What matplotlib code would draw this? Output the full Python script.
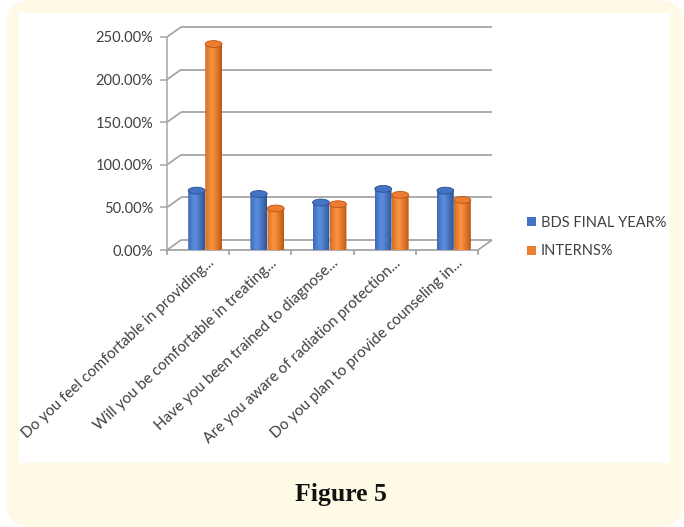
import numpy as np
import matplotlib
matplotlib.use("Agg")
import matplotlib.pyplot as plt
from matplotlib.patches import Rectangle, Ellipse, FancyBboxPatch, Polygon
from matplotlib.transforms import ScaledTranslation, blended_transform_factory

categories = [
    "Do you feel comfortable in providing...",
    "Will you be comfortable in treating...",
    "Have you been trained to diagnose...",
    "Are you aware of radiation protection...",
    "Do you plan to provide counseling in...",
]
bds_final_year = [68, 64, 54, 70, 68]
interns = [240, 47, 52, 63, 57]
series_names = ["BDS FINAL YEAR%", "INTERNS%"]
yticks = [0, 50, 100, 150, 200, 250]

BLUE = ("#2c508f", "#5b8ee0", "#4472c4")
ORANGE = ("#b9530f", "#fb9442", "#ed7d31")

W, H = 684, 527
fig = plt.figure(figsize=(W / 100, H / 100), dpi=100)
fig.patch.set_facecolor("white")

# cream rounded card + white chart area
card = FancyBboxPatch((7 / W, 0), (W - 8) / W, 1, boxstyle="round,pad=0,rounding_size=0.04",
                      transform=fig.transFigure, facecolor="#fffae6", edgecolor="none", zorder=-3)
fig.patches.append(card)
fig.patches.append(Rectangle((19 / W, (H - 463) / H), (670 - 19) / W, (463 - 13) / H,
                             transform=fig.transFigure, facecolor="white", edgecolor="none", zorder=-2))

ax = fig.add_axes([167 / W, (H - 250) / H, (478 - 167) / W, (250 - 37) / H])
ax.set_xlim(-0.5, 4.5)
ax.set_ylim(0, 250)
ax.patch.set_visible(False)
for s in ["top", "right", "bottom"]:
    ax.spines[s].set_visible(False)
ax.spines["left"].set_color("#a6a6a6")
ax.spines["left"].set_linewidth(1.1)

def px(dx, dy):
    return ax.transData + ScaledTranslation(dx / 100, dy / 100, fig.dpi_scale_trans)

back = px(14, 10)
grid_kw = dict(color="#a6a6a6", lw=1.3, solid_capstyle="butt")
# back wall gridlines and left side wall diagonals
for v in yticks:
    ax.plot([-0.5, 4.5], [v, v], transform=back, clip_on=False, **grid_kw)
    ax.plot([-0.5, -0.5 + 14 / 62.2], [v, v + 10 / 0.852], clip_on=False, **grid_kw)
# floor front edge and right diagonal
ax.plot([-0.5, 4.5], [0, 0], clip_on=False, **grid_kw)
ax.plot([4.5, 4.5 + 14 / 62.2], [0, 10 / 0.852], clip_on=False, **grid_kw)
# category ticks on floor
for i in range(len(categories) + 1):
    ax.plot([i - 0.5, i - 0.5], [0, -6], clip_on=False, **grid_kw)

ax.set_yticks(yticks)
ax.set_yticklabels([f"{v:.2f}%" for v in yticks])
ax.tick_params(axis="y", length=5, color="#a6a6a6", width=1.1, pad=5,
               labelsize=10.5, labelcolor="#404040")
for t in ax.get_yticklabels():
    t.set_family("Lato")
ax.set_xticks([])

bar_tr = px(7, 1.5)
bw = 0.27
cap = 8.0
grad = np.linspace(0, 1, 60)
shade = np.clip(1 - np.abs(grad - 0.4) / 0.6, 0, 1) ** 0.8

def cylinder(xc, h, cols):
    dark, light, mid = cols
    x0, x1 = xc - bw / 2, xc + bw / 2
    t = np.linspace(np.pi, 2 * np.pi, 30)
    arc_x = xc + bw / 2 * np.cos(t)
    arc_y = cap / 2 * np.sin(t)
    pts = np.column_stack([np.r_[x0, arc_x, x1], np.r_[h, arc_y, h]])
    body = Polygon(pts, closed=True, transform=bar_tr, facecolor="none", edgecolor="none")
    ax.add_patch(body)
    c0 = np.array(matplotlib.colors.to_rgb(dark))
    c1 = np.array(matplotlib.colors.to_rgb(light))
    img = c0[None, :] + (c1 - c0)[None, :] * shade[:, None]
    im = ax.imshow(img[None, :, :], extent=[x0, x1, -cap, h], transform=bar_tr,
                   aspect="auto", interpolation="bilinear", zorder=3)
    im.set_clip_path(body)
    ax.add_patch(Ellipse((xc, h), bw, cap, transform=bar_tr, facecolor=mid,
                         edgecolor=dark, lw=0.6, zorder=4))

for i in range(len(categories)):
    cylinder(i - 0.137, bds_final_year[i], BLUE)
    cylinder(i + 0.137, interns[i], ORANGE)
ax.set_xlim(-0.5, 4.5)
ax.set_ylim(0, 250)

# rotated category labels
lab_tr = blended_transform_factory(ax.transData, ax.transAxes) + ScaledTranslation(14 / 100, -11 / 100, fig.dpi_scale_trans)
for i, c in enumerate(categories):
    ax.text(i, 0, c, transform=lab_tr, rotation=43, rotation_mode="anchor",
            ha="right", va="center", fontsize=11, color="#404040", family="Lato")

handles = [Rectangle((0, 0), 1, 1, facecolor=BLUE[2]), Rectangle((0, 0), 1, 1, facecolor=ORANGE[2])]
fig.legend(handles, series_names, loc="center left", bbox_to_anchor=(514 / W, (H - 237) / H),
           frameon=False, handlelength=0.6, handleheight=0.6, handletextpad=0.35,
           labelspacing=1.0, prop={"family": "Lato", "size": 10.5}, labelcolor="#404040")

fig.text(341 / W, (H - 495) / H, "Figure 5", ha="center", va="center",
         fontsize=18.5, fontweight="bold", family="Liberation Serif", color="#111111")

fig.savefig("out.png", dpi=100)
